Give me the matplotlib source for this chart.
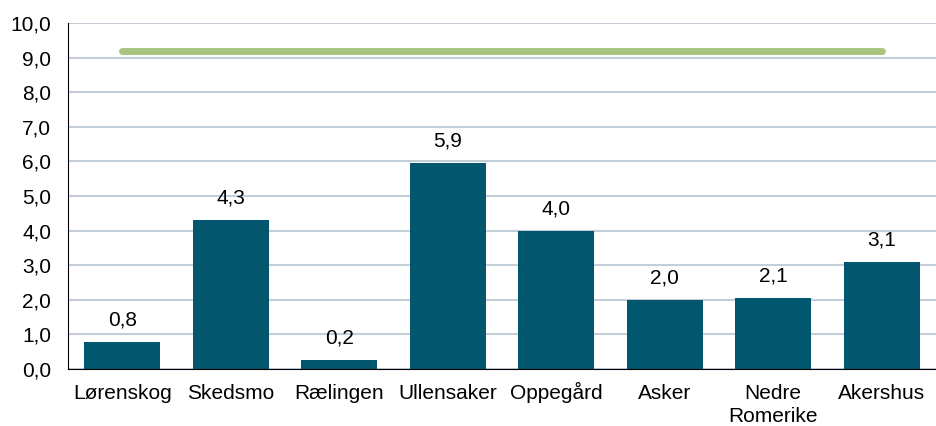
import numpy as np
import matplotlib.pyplot as plt

# Data
categories = ["Lørenskog", "Skedsmo", "Rælingen", "Ullensaker", "Oppegård",
              "Asker", "Nedre\nRomerike", "Akershus"]
values = [0.77, 4.3, 0.25, 5.95, 4.0, 2.0, 2.05, 3.1]
value_labels = ["0,8", "4,3", "0,2", "5,9", "4,0", "2,0", "2,1", "3,1"]
target = 9.2
yticks = np.arange(0, 11, 1)

plt.rcParams['font.family'] = ['Liberation Sans', 'DejaVu Sans']

fig = plt.figure(figsize=(9.36, 4.26), dpi=100)
ax = fig.add_axes([0.0726, 0.134, 0.9274, 0.812])

x = np.arange(len(categories))
ax.bar(x, values, width=0.7, color="#02566E", zorder=3)
ax.plot([x[0], x[-1]], [target, target], color="#A9C47F", lw=5,
        solid_capstyle="round", zorder=4)

for xi, v, lab in zip(x, values, value_labels):
    ax.annotate(lab, (xi, v), xytext=(0, 9), textcoords="offset points",
                ha="center", va="bottom", fontsize=15)

# category labels, baseline aligned (one text per line)
for xi, cat in zip(x, categories):
    for i, line in enumerate(cat.split("\n")):
        ax.annotate(line, (xi, 0), xycoords=ax.get_xaxis_transform(),
                    xytext=(0, -22 - 16.5 * i), textcoords="offset points",
                    ha="center", va="baseline", fontsize=15,
                    annotation_clip=False)

ax.set_xlim(-0.5, len(categories) - 0.5)
ax.set_ylim(0, 10)
ax.set_yticks(yticks)
ax.set_yticklabels([f"{t:.1f}".replace(".", ",") for t in yticks])
ax.set_xticks(x)
ax.set_xticklabels([])
ax.tick_params(axis="both", length=0, labelsize=15)
ax.tick_params(axis="y", pad=12)

ax.grid(axis="y", color="#C4CED8", lw=1.5, zorder=0)
ax.spines["top"].set_visible(False)
ax.spines["right"].set_visible(False)
ax.spines["left"].set_color("black")
ax.spines["bottom"].set_color("black")
ax.spines["left"].set_zorder(5)
ax.spines["bottom"].set_zorder(5)

fig.savefig("out.png", dpi=100)
